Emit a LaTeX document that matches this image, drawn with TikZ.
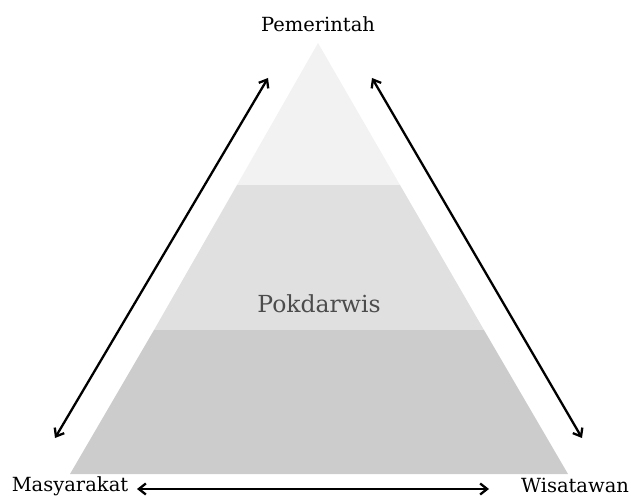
\documentclass[tikz,border=0pt]{standalone}
\usepackage{fontspec}
\setmainfont{DejaVu Serif}
\usetikzlibrary{arrows.meta}
\usepackage{xcolor}
\definecolor{bandtop}{HTML}{F2F2F2}
\definecolor{bandmid}{HTML}{E0E0E0}
\definecolor{bandlow}{HTML}{CCCCCC}

\begin{document}
\begin{tikzpicture}[x=1pt,y=-1pt,
					actor/.style={anchor=base, inner sep=0pt, text=black, font=\fontsize{19.5}{22}\selectfont},
					group/.style={anchor=base, inner sep=0pt, text=black!70, font=\fontsize{23.5}{26}\selectfont},
					link/.style={line width=2.3pt, {Straight Barb[length=7pt,width=11pt]}-{Straight Barb[length=7pt,width=11pt]}}]
    \useasboundingbox (0,0) rectangle (638,497);
    % Pyramid bands
    \fill[bandlow] (70,474) -- (568,474) -- (484,330) -- (154,330) -- cycle;
    \fill[bandmid] (154,330) -- (484,330) -- (400,185) -- (237,185) -- cycle;
    \fill[bandtop] (237,185) -- (400,185) -- (318,43) -- cycle;
    % Place nodes
    \node [actor] (P) at (318,32) {Pemerintah};
    \node [actor] (M) at (70,491) {Masyarakat};
    \node [actor] (W) at (575,492) {Wisatawan};
    \node [group] (K) at (319,313) {Pokdarwis};
    \coordinate (PL) at (268,78);
    \coordinate (ML) at (55,438);
    \coordinate (PR) at (372,78);
    \coordinate (WR) at (582,438);
    \coordinate (MB) at (137,489);
    \coordinate (WB) at (489,489);
    % Draw edges
    \draw[link] (PL) -- (ML);
    \draw[link] (PR) -- (WR);
    \draw[link] (MB) -- (WB);
\end{tikzpicture}
\end{document}
